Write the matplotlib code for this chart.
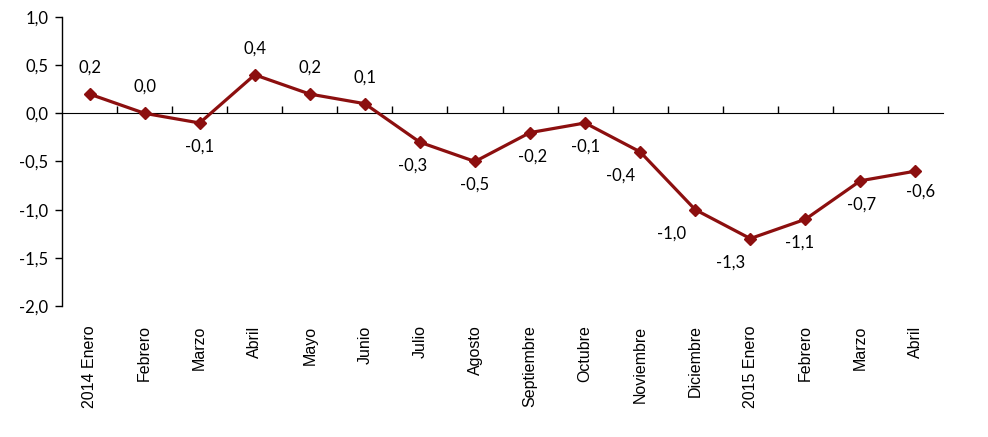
import numpy as np
import matplotlib.pyplot as plt

meses = ["2014 Enero", "Febrero", "Marzo", "Abril", "Mayo", "Junio", "Julio",
         "Agosto", "Septiembre", "Octubre", "Noviembre", "Diciembre",
         "2015 Enero", "Febrero", "Marzo", "Abril"]
valores = [0.2, 0.0, -0.1, 0.4, 0.2, 0.1, -0.3, -0.5, -0.2, -0.1, -0.4,
           -1.0, -1.3, -1.1, -0.7, -0.6]

# desplazamiento de las etiquetas (puntos)
desp = [(0, 19), (0, 19), (0, -17), (0, 19), (0, 19), (0, 19), (-5, -17),
        (0, -17), (2, -17), (0, -17), (-14, -17), (-17, -17), (-14, -17),
        (-4, -17), (1, -17), (4, -15)]

color = "#8C0F0F"
fuente_num = "Lato"

fig = plt.figure(figsize=(9.88, 4.37), dpi=100)
ax = fig.add_axes([62/988, 1-306/437, (943-62)/988, (306-17)/437])

x = np.arange(len(meses))
ax.plot(x, valores, color=color, lw=2.3, marker="D", ms=6.5, zorder=3)

for xi, v, (dx, dy) in zip(x, valores, desp):
    ax.annotate(f"{v:.1f}".replace(".", ","), (xi, v), xytext=(dx, dy),
                textcoords="offset points", ha="center", va="center",
                fontsize=12, family=fuente_num)

ymin, ymax = -2.0, 1.0
ax.set_ylim(ymin, ymax)
ax.set_xlim(-0.5, len(meses) - 0.5)
yt = np.arange(-2.0, 1.01, 0.5)
ax.set_yticks(yt)
ax.set_yticklabels([f"{t:.1f}".replace(".", ",") for t in yt],
                   fontsize=12, family=fuente_num)
ax.tick_params(axis="y", direction="out", length=5, width=1, pad=5)

ax.set_xticks(x)
ax.set_xticklabels(meses, rotation=90, fontsize=11.5, family="Liberation Sans")
ax.tick_params(axis="x", length=0, pad=14)

for s in ["top", "right", "bottom"]:
    ax.spines[s].set_visible(False)
ax.spines["left"].set_linewidth(1)

# eje horizontal en el cero
sec = ax.secondary_xaxis((0 - ymin) / (ymax - ymin))
sec.set_xticks(np.arange(0.5, len(meses) - 0.5, 1.0))
sec.set_xticklabels([])
sec.tick_params(direction="out", length=5, width=1)
sec.spines["bottom"].set_linewidth(1)

fig.savefig("out.png", dpi=100)
